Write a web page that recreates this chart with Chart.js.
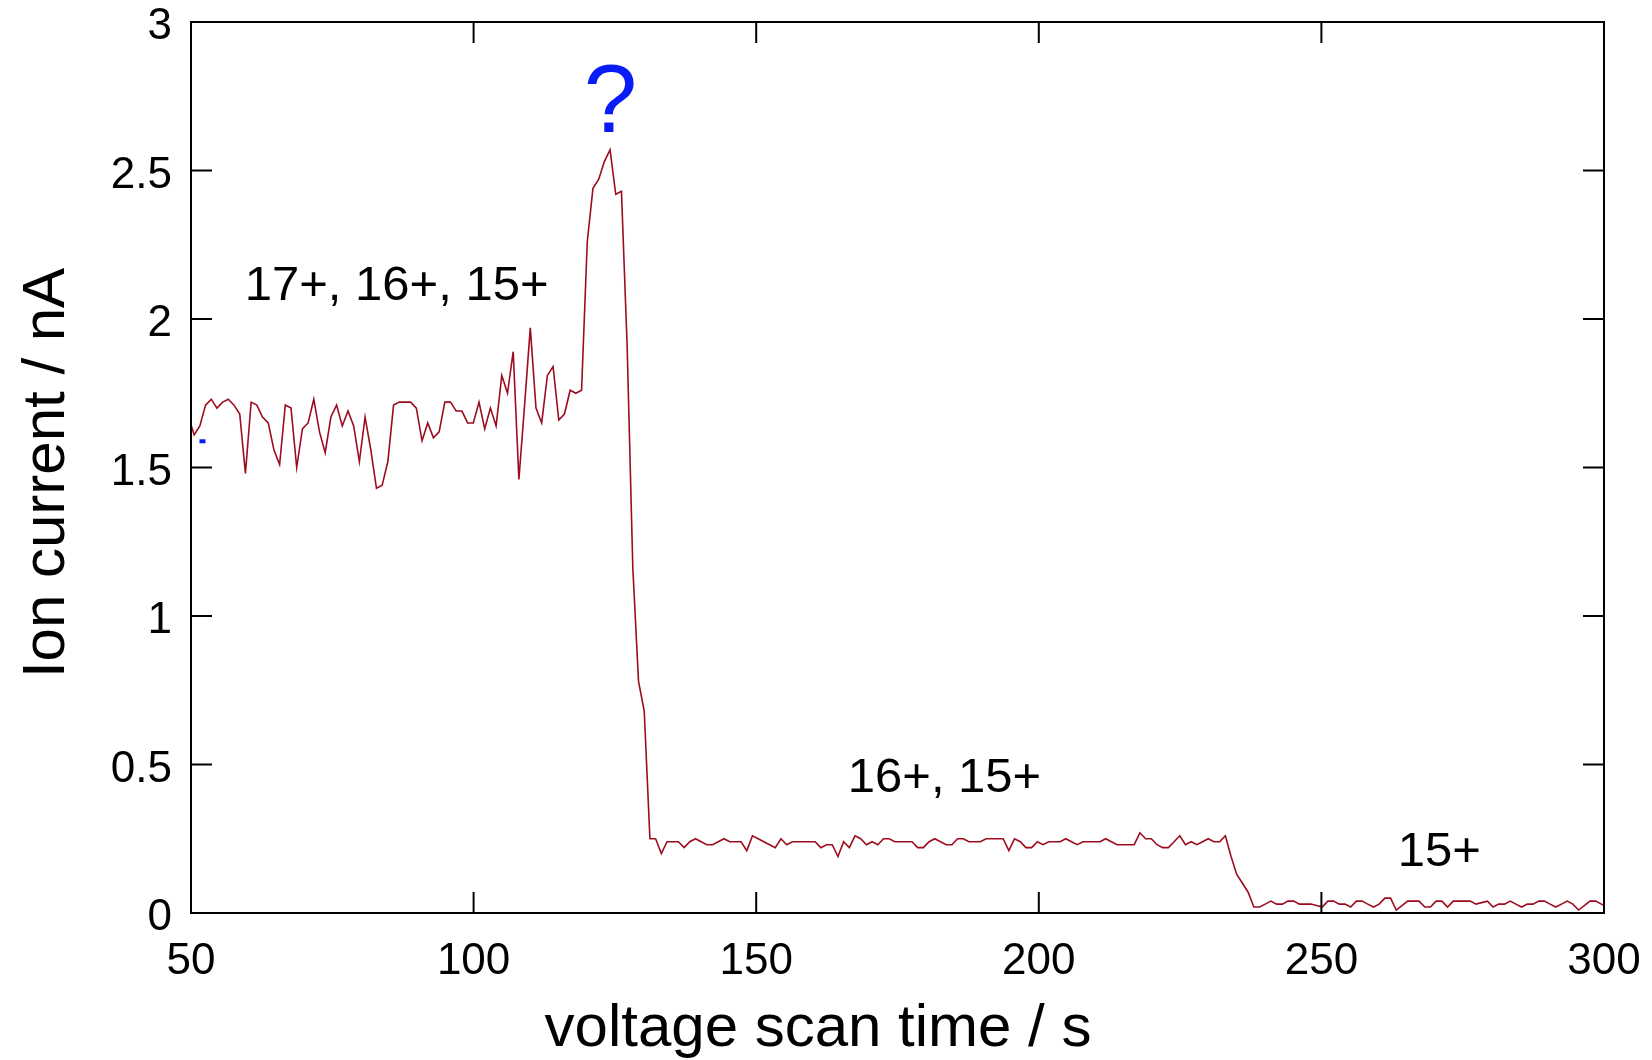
<!DOCTYPE html>
<html>
<head>
<meta charset="utf-8">
<title>Ion current vs voltage scan time</title>
<script src="https://cdn.jsdelivr.net/npm/chart.js@4.4.1/dist/chart.umd.min.js"></script>
<style>
  html, body { margin: 0; padding: 0; background: #fff; }
  #wrap { width: 1652px; height: 1060px; }
</style>
</head>
<body>
<div id="wrap"><canvas id="ionChart" width="1652" height="1060"></canvas></div>
<script>
// ===========================
// Data
// ===========================
// one reading roughly every second; the first one sits just left of the frame
const TIME_FIRST = 49.55;
const TIME_STEP = 1.008;

// 17+, 16+, 15+ plateau (noisy)
const CURRENT_NOISY = [
  1.67, 1.61, 1.64, 1.71, 1.73, 1.70, 1.72, 1.73, 1.71, 1.68, 1.48,
  1.72, 1.71, 1.67, 1.65, 1.56, 1.51, 1.71, 1.70, 1.50, 1.63,
  1.65, 1.73, 1.62, 1.55, 1.67, 1.71, 1.64, 1.69, 1.64, 1.52,
  1.67, 1.56, 1.43, 1.44, 1.52, 1.71, 1.72, 1.72, 1.72, 1.70,
  1.59, 1.65, 1.60, 1.62, 1.72, 1.72, 1.69, 1.69, 1.65, 1.65,
  1.72, 1.63, 1.70, 1.64, 1.81, 1.75, 1.89, 1.46, 1.71, 1.97,
  1.70, 1.65, 1.81, 1.84, 1.66, 1.68, 1.76, 1.75, 1.76
];
// the "?" bump and the drop
const CURRENT_PEAK = [2.26, 2.44, 2.47, 2.53, 2.57, 2.42, 2.43, 1.91, 1.16, 0.78, 0.68, 0.25, 0.25, 0.20];
// 16+, 15+ plateau
const CURRENT_MID = [
  0.24, 0.24, 0.24, 0.22, 0.24, 0.25, 0.24, 0.23, 0.23, 0.24,
  0.25, 0.24, 0.24, 0.24, 0.21, 0.26, 0.25, 0.24, 0.23, 0.22,
  0.25, 0.23, 0.24, 0.24, 0.24, 0.24, 0.24, 0.22, 0.23, 0.23,
  0.19, 0.24, 0.22, 0.26, 0.25, 0.23, 0.24, 0.23, 0.25, 0.25,
  0.24, 0.24, 0.24, 0.24, 0.22, 0.22, 0.24, 0.25, 0.24, 0.23,
  0.23, 0.25, 0.25, 0.24, 0.24, 0.24, 0.25, 0.25, 0.25, 0.25,
  0.21, 0.25, 0.24, 0.22, 0.22, 0.24, 0.23, 0.24, 0.24, 0.24,
  0.25, 0.24, 0.23, 0.24, 0.24, 0.24, 0.24, 0.25, 0.24, 0.23,
  0.23, 0.23, 0.23, 0.27, 0.25, 0.25, 0.23, 0.22, 0.22, 0.24,
  0.26, 0.23, 0.24, 0.23, 0.24, 0.25, 0.24, 0.24, 0.26
];
// 15+ only
const CURRENT_LOW = [
  0.19, 0.13, 0.10, 0.07, 0.02, 0.02, 0.03, 0.04, 0.03, 0.03,
  0.04, 0.04, 0.03, 0.03, 0.03, 0.025, 0.02, 0.04, 0.04, 0.03,
  0.03, 0.02, 0.04, 0.04, 0.03, 0.02, 0.03, 0.05, 0.05, 0.01,
  0.025, 0.04, 0.04, 0.04, 0.02, 0.02, 0.04, 0.04, 0.02, 0.04,
  0.04, 0.04, 0.04, 0.03, 0.035, 0.04, 0.02, 0.03, 0.03, 0.04,
  0.03, 0.02, 0.03, 0.03, 0.04, 0.04, 0.03, 0.02, 0.03, 0.04,
  0.03, 0.01, 0.025, 0.04, 0.04, 0.03, 0.02
];

const X_TICKS = [50, 100, 150, 200, 250, 300];
const Y_TICKS = [0, 0.5, 1, 1.5, 2, 2.5, 3];

const X_TITLE = 'voltage scan time / s';
const Y_TITLE = 'Ion current / nA';

// text notes, anchored at (time, current) of their left baseline
const NOTE_TEXT = ['17+, 16+, 15+', '16+, 15+', '15+'];
const NOTE_T = [59.5, 166.2, 263.5];
const NOTE_V = [2.064, 0.407, 0.158];

const QMARK_T = 124.2;  // centre of the blue "?"
const QMARK_V = 2.63;   // its baseline
const DOT_T = 51.5;     // small blue stray mark
const DOT_V = 1.595;

// ===========================
// Styles
// ===========================
const FONT = '"Liberation Sans", Arial, Helvetica, sans-serif';
const LINE_COLOR = '#9c0c1e';
const BLUE = '#0a1cf5';
const TICK_LEN = 21;

Chart.defaults.font.family = FONT;
Chart.defaults.color = '#000';

const points = CURRENT_NOISY.concat(CURRENT_PEAK, CURRENT_MID, CURRENT_LOW)
  .map((v, i) => ({ x: TIME_FIRST + i * TIME_STEP, y: v }));

// ===========================
// Frame, inward ticks, titles and notes
// ===========================
const frameAndNotes = {
  id: 'frameAndNotes',
  afterDatasetsDraw(chart) {
    const { ctx, chartArea: a, scales: { x, y } } = chart;
    ctx.save();
    ctx.strokeStyle = '#000';
    ctx.lineWidth = 2;
    ctx.beginPath();
    X_TICKS.forEach(v => {
      const px = x.getPixelForValue(v);
      ctx.moveTo(px, a.bottom); ctx.lineTo(px, a.bottom - TICK_LEN);
      ctx.moveTo(px, a.top); ctx.lineTo(px, a.top + TICK_LEN);
    });
    Y_TICKS.forEach(v => {
      const py = y.getPixelForValue(v);
      ctx.moveTo(a.left, py); ctx.lineTo(a.left + TICK_LEN, py);
      ctx.moveTo(a.right, py); ctx.lineTo(a.right - TICK_LEN, py);
    });
    ctx.stroke();
    ctx.strokeRect(a.left, a.top, a.right - a.left, a.bottom - a.top);

    // axis titles (the x one sits left of the frame centre in the original)
    ctx.fillStyle = '#000';
    ctx.font = '60px ' + FONT;
    ctx.textAlign = 'center';
    ctx.textBaseline = 'alphabetic';
    ctx.fillText(X_TITLE, 818, 1046);
    ctx.save();
    ctx.translate(64, 473);
    ctx.rotate(-Math.PI / 2);
    ctx.fillText(Y_TITLE, 0, 0);
    ctx.restore();

    ctx.font = '49px ' + FONT;
    ctx.textAlign = 'left';
    NOTE_TEXT.forEach((s, i) => {
      ctx.fillText(s, x.getPixelForValue(NOTE_T[i]), y.getPixelForValue(NOTE_V[i]));
    });

    ctx.fillStyle = BLUE;
    ctx.font = '96px ' + FONT;
    ctx.textAlign = 'center';
    ctx.fillText('?', x.getPixelForValue(QMARK_T), y.getPixelForValue(QMARK_V));
    ctx.fillRect(x.getPixelForValue(DOT_T), y.getPixelForValue(DOT_V), 6, 4);
    ctx.restore();
  }
};

// ===========================
// Chart
// ===========================
new Chart(document.getElementById('ionChart'), {
  type: 'line',
  data: {
    datasets: [{
      data: points,
      borderColor: LINE_COLOR,
      borderWidth: 1.6,
      pointRadius: 0,
      tension: 0,
      fill: false
    }]
  },
  options: {
    responsive: false,
    animation: false,
    devicePixelRatio: 1,
    layout: { padding: { top: 22, right: 48, bottom: 0, left: 0 } },
    plugins: { legend: { display: false }, tooltip: { enabled: false } },
    scales: {
      x: {
        type: 'linear',
        min: 50,
        max: 300,
        afterBuildTicks: s => { s.ticks = X_TICKS.map(v => ({ value: v })); },
        afterFit: s => { s.height = 147; s.paddingLeft = 0; s.paddingRight = 0; },
        grid: { display: false, drawTicks: false },
        border: { display: false },
        ticks: { font: { size: 44 }, color: '#000', padding: 22, maxRotation: 0, autoSkip: false,
                 callback: v => String(v) }
      },
      y: {
        min: 0,
        max: 3,
        afterBuildTicks: s => { s.ticks = Y_TICKS.map(v => ({ value: v })); },
        afterFit: s => { s.width = 191; s.paddingTop = 0; s.paddingBottom = 0; },
        grid: { display: false, drawTicks: false },
        border: { display: false },
        ticks: { font: { size: 44 }, color: '#000', padding: 19, labelOffset: 5, autoSkip: false,
                 callback: v => String(v) }
      }
    }
  },
  plugins: [frameAndNotes]
});
</script>
</body>
</html>
